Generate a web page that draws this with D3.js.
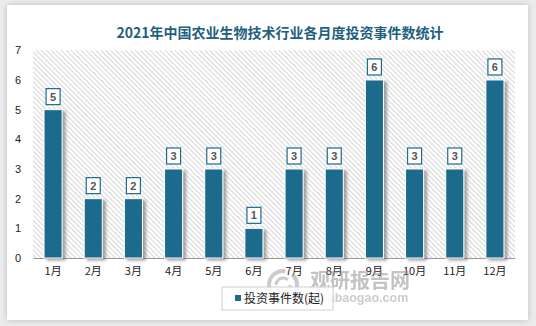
<!DOCTYPE html>
<html><head><meta charset="utf-8">
<script src="https://cdn.jsdelivr.net/npm/d3@7"></script>
<style>html,body{margin:0;padding:0;background:#e9e9e9;}svg{display:block;}</style>
</head><body>
<script>
const months = ["1月","2月","3月","4月","5月","6月","7月","8月","9月","10月","11月","12月"];
const counts = [5,2,2,3,3,1,3,3,6,3,3,6];
const yTicks = [0,1,2,3,4,5,6,7];
const title = "2021年中国农业生物技术行业各月度投资事件数统计";
const seriesName = "投资事件数(起)";

const W = 536, H = 326;
const svg = d3.select("body").append("svg").attr("width", W).attr("height", H);
const defs = svg.append("defs");
const bgF = defs.append("filter").attr("id","cardShadow").attr("x","-5%").attr("y","-5%").attr("width","110%").attr("height","110%");
bgF.append("feDropShadow").attr("dx",0).attr("dy",0).attr("stdDeviation",3).attr("flood-color","#999").attr("flood-opacity",0.6);
const barF = defs.append("filter").attr("id","barShadow").attr("x","-30%").attr("y","-10%").attr("width","180%").attr("height","130%");
barF.append("feDropShadow").attr("dx",3).attr("dy",2).attr("stdDeviation",1.5).attr("flood-color","#666").attr("flood-opacity",0.6);
const pat = defs.append("pattern").attr("id","hatch").attr("patternUnits","userSpaceOnUse").attr("width",3.5).attr("height",3.5)
  .attr("patternTransform","rotate(-45)");
pat.append("rect").attr("width",3.5).attr("height",3.5).attr("fill","#fff");
pat.append("rect").attr("x",0).attr("y",0).attr("width",1.2).attr("height",3.5).attr("fill","#dadada");

// card
svg.append("rect").attr("x",0).attr("y",0).attr("width",W).attr("height",H).attr("fill","#ececec");
svg.append("rect").attr("x",7).attr("y",5).attr("width",521).attr("height",315).attr("fill","#fff").attr("filter","url(#cardShadow)");

const pLeft = 33, pRight = 515, pTop = 50.3, pBottom = 258;
const x = d3.scaleBand().domain(months).range([pLeft,pRight]).paddingInner(0.55).paddingOuter(0.275);
const y = d3.scaleLinear().domain([0,7]).range([pBottom, pTop]);

// title
svg.append("text").attr("x",280).attr("y",38).attr("text-anchor","middle")
  .attr("font-family","'Noto Sans CJK SC', sans-serif").attr("font-weight","bold").attr("font-size",14)
  .attr("fill","#1f5f80").text(title);

// plot background
svg.append("rect").attr("x",pLeft).attr("y",y(7)).attr("width",pRight-pLeft).attr("height",pBottom-y(7)).attr("fill","url(#hatch)");

// y axis labels
const yAxis = d3.axisLeft(y).tickValues(yTicks).tickSize(0).tickPadding(0).tickFormat(d3.format("d"));
const gy = svg.append("g").attr("transform",`translate(21,0)`).call(yAxis);
gy.select(".domain").remove();
gy.selectAll("text").attr("font-family","'Liberation Sans', sans-serif").attr("font-size",11).attr("fill","#222");

// x axis
const xAxis = d3.axisBottom(x).tickSize(0).tickPadding(9);
const gx = svg.append("g").attr("transform",`translate(0,${pBottom})`).call(xAxis);
gx.select(".domain").attr("stroke","#999").attr("stroke-width",1.2);
gx.selectAll("text").attr("font-family","'Noto Sans CJK SC', sans-serif").attr("font-size",11).attr("fill","#222");

// bars
svg.append("g").selectAll("rect").data(counts).join("rect")
  .attr("x",(d,i)=>x(months[i])).attr("y",d=>y(d)).attr("width",x.bandwidth()).attr("height",d=>pBottom-y(d))
  .attr("fill","#1c6a8c").attr("stroke","#fff").attr("stroke-width",1).attr("filter","url(#barShadow)");

// labels
const lg = svg.append("g").selectAll("g").data(counts).join("g")
  .attr("transform",(d,i)=>`translate(${x(months[i])+x.bandwidth()/2},${y(d)-4})`);
lg.append("rect").attr("x",-7).attr("y",-17).attr("width",14).attr("height",16)
  .attr("fill","#fff").attr("stroke","#1c6a8c").attr("stroke-width",1.2);
lg.append("text").attr("y",-5).attr("text-anchor","middle").attr("font-family","'Liberation Sans', sans-serif")
  .attr("font-weight","bold").attr("font-size",11).attr("fill","#555").text(d=>d);

// watermark
const wm = svg.append("g").attr("opacity",0.5);
const lgc = wm.append("g").attr("transform","translate(283,285)");
lgc.append("circle").attr("r",14).attr("fill","none").attr("stroke","#999").attr("stroke-width",4).attr("stroke-dasharray","30 8");
lgc.append("circle").attr("r",7).attr("fill","none").attr("stroke","#999").attr("stroke-width",3).attr("stroke-dasharray","16 6");
wm.append("text").attr("x",310).attr("y",288).attr("font-family","'Noto Sans CJK SC', sans-serif").attr("font-weight","bold")
  .attr("font-size",20).attr("fill","#888").text("观研报告网");
wm.append("text").attr("x",302).attr("y",302).attr("font-family","'Liberation Sans', sans-serif").attr("font-weight","bold")
  .attr("font-size",12.5).attr("fill","#999").text("chinabaogao.com");

// legend
svg.append("rect").attr("x",222).attr("y",287).attr("width",111).attr("height",23).attr("fill","#fff").attr("fill-opacity",0.85).attr("stroke","#d0d0d0");
svg.append("rect").attr("x",235).attr("y",295).attr("width",6).attr("height",6).attr("fill","#1c6a8c");
svg.append("text").attr("x",244).attr("y",303).attr("font-family","'Noto Sans CJK SC', sans-serif").attr("font-size",12).attr("fill","#222").text(seriesName);
</script>
</body></html>
